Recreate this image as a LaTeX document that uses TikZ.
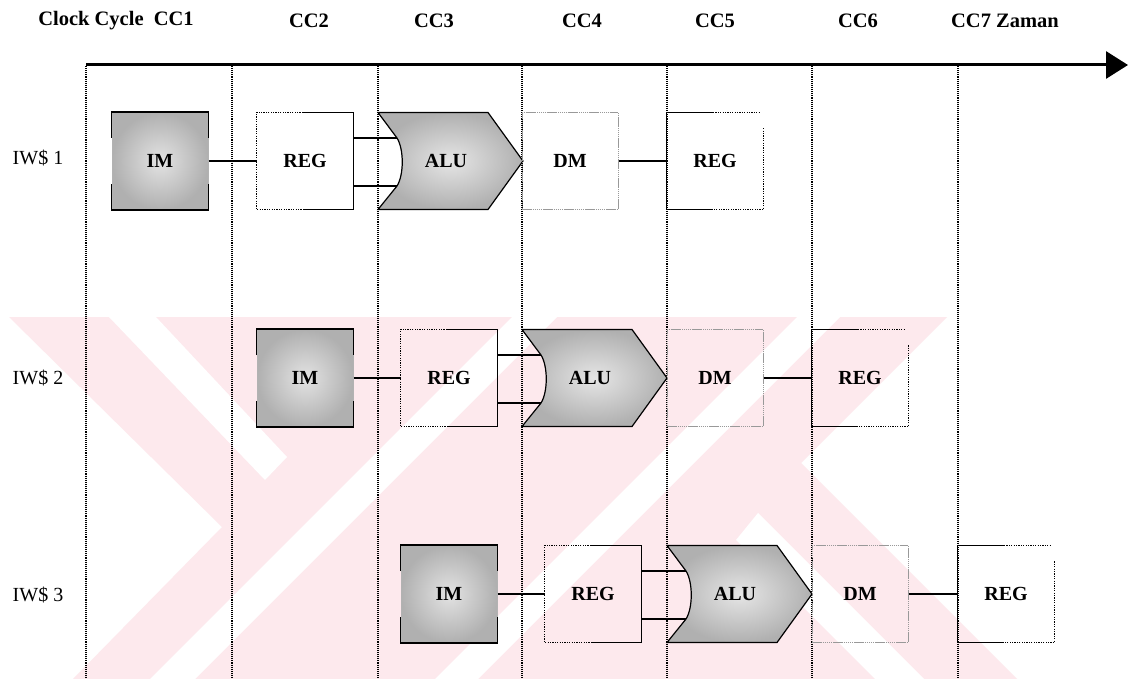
\documentclass[tikz,border=0pt]{standalone}
\usepackage{fontspec}
\setmainfont{Liberation Serif}
\usetikzlibrary{arrows.meta,calc}
\definecolor{wmpink}{RGB}{253,233,237}

\newcommand\IMbox[3]{%
  \node[imcell] (#1) at (#2,#3) {IM};
  \draw[edge] ([yshift=-26pt]#1.north west) -- (#1.north west) -- (#1.north east) -- ([yshift=-26pt]#1.north east);
  \draw[edge] ([yshift=26pt]#1.south west) -- (#1.south west) -- (#1.south east) -- ([yshift=26pt]#1.south east);
}
\newcommand\REGread[3]{%
  \node[cell] (#1) at (#2,#3) {REG};
  \draw[halfdot] ([xshift=-2pt]#1.north) -- (#1.north west) -- (#1.south west) -- ([xshift=-2pt]#1.south);
  \draw[edge] ([xshift=-2pt]#1.north) -- (#1.north east) -- (#1.south east) -- ([xshift=-2pt]#1.south);
}
\newcommand\REGwrite[3]{%
  \node[cell] (#1) at (#2,#3) {REG};
  \draw[edge] ([xshift=-2pt]#1.north) -- (#1.north west) -- (#1.south west) -- ([xshift=-2pt]#1.south);
  \draw[halfdot] ([xshift=-2pt]#1.north) -- ([xshift=-4pt]#1.north east);
  \draw[halfdot] ([yshift=-16pt]#1.north east) -- (#1.south east) -- ([xshift=-2pt]#1.south);
}
\newcommand\DMbox[3]{%
  \node[dmcell] (#1) at (#2,#3) {DM};
}
\newcommand\ALUbox[3]{%
  \shadedraw[alushape] (#2,#3-48.5) -- (#2+110,#3-48.5) -- (#2+145,#3) -- (#2+110,#3+48.5)
     -- (#2,#3+48.5) -- (#2+19,#3+25) .. controls (#2+26,#3+14) and (#2+26,#3-12) .. (#2+19,#3-23) -- cycle;
  \node[boxtxt] (#1) at (#2+68,#3) {ALU};
  \coordinate (#1u) at (#2+19,#3-23);
  \coordinate (#1d) at (#2+19,#3+25);
}

\begin{document}
\begin{tikzpicture}[x=1pt,y=-1pt,
  hdr/.style={font=\bfseries\fontsize{20.5}{24}\selectfont},
  rowlbl/.style={font=\fontsize{20}{24}\selectfont},
  boxtxt/.style={font=\bfseries\fontsize{20}{24}\selectfont},
  cell/.style={minimum width=96pt, minimum height=97pt, inner sep=0pt, boxtxt},
  imcell/.style={cell, draw=gray!60, line width=1pt, inner color=gray!22, outer color=gray!62},
  dmcell/.style={cell, draw=gray!80, line width=1pt, dash pattern=on 1.5pt off 0.6pt},
  alushape/.style={draw=black, line width=1.2pt, inner color=gray!20, outer color=gray!62},
  edge/.style={draw=black, line width=1.3pt},
  halfdot/.style={draw=black, line width=1.1pt, dash pattern=on 1.2pt off 1.2pt},
  conn/.style={draw=black, line width=1.2pt},
  vline/.style={draw=black, line width=1.1pt, dash pattern=on 1.1pt off 1pt},
  axis/.style={draw=black, line width=3pt, -{Triangle[length=22pt,width=27pt]}},
  wm/.style={fill=wmpink, draw=none},
  wmcut/.style={fill=white, draw=none}
]
\useasboundingbox (0,0) rectangle (1131,679);
\fill[white] (0,0) rectangle (1131,679);

% watermark (background)
\begin{scope}
  \clip (0,0) rectangle (1131,679);
  \fill[wm] (9,317) -- (947,317) -- (801,463) -- (1017,679) -- (73,679) -- (222,527) -- cycle;
  \fill[wmcut] (109,317) -- (156,317) -- (287,457) -- (265,480) -- cycle;
  \fill[wmcut] (512,317) -- (557,317) -- (195,679) -- (150,679) -- cycle;
  \fill[wmcut] (797,317) -- (840,317) -- (478,679) -- (435,679) -- cycle;
  \fill[wmcut] (736,540) -- (758,513) -- (924,679) -- (875,679) -- cycle;
\end{scope}

% time columns
\coordinate (bot) at (0,679);
\foreach \i/\x in {1/86,2/232,3/378,4/522,5/667,6/812,7/958}{
  \coordinate (v\i) at (\x,66);
  \draw[vline] (v\i) -- (v\i |- bot);
}
\coordinate (t0) at (86,65);
\coordinate (t1) at (1128,65);
\draw[axis] (t0) -- (t1);

% header
\node[hdr] (h1) at (116,21) {Clock Cycle\ \ CC1};
\node[hdr] (h2) at (309,21) {CC2};
\node[hdr] (h3) at (434,21) {CC3};
\node[hdr] (h4) at (582,21) {CC4};
\node[hdr] (h5) at (715,21) {CC5};
\node[hdr] (h6) at (858,21) {CC6};
\node[hdr] (h7) at (1005,21) {CC7 Zaman};

% row labels
\node[rowlbl] (l1) at (38,158) {IW\$ 1};
\node[rowlbl] (l2) at (38,378) {IW\$ 2};
\node[rowlbl] (l3) at (38,595) {IW\$ 3};

% row 1
\IMbox{im1}{160}{161}
\REGread{rr1}{305}{161}
\ALUbox{alu1}{378}{161}
\DMbox{dm1}{570}{161}
\REGwrite{rw1}{715}{161}
\draw[conn] (im1) -- (rr1);
\draw[conn] (rr1.east |- alu1u) -- (alu1u);
\draw[conn] (rr1.east |- alu1d) -- (alu1d);
\draw[conn] (dm1) -- (rw1);

% row 2
\IMbox{im2}{305}{378}
\REGread{rr2}{449}{378}
\ALUbox{alu2}{522}{378}
\DMbox{dm2}{715}{378}
\REGwrite{rw2}{860}{378}
\draw[conn] (im2) -- (rr2);
\draw[conn] (rr2.east |- alu2u) -- (alu2u);
\draw[conn] (rr2.east |- alu2d) -- (alu2d);
\draw[conn] (dm2) -- (rw2);

% row 3
\IMbox{im3}{449}{594}
\REGread{rr3}{593}{594}
\ALUbox{alu3}{667}{594}
\DMbox{dm3}{860}{594}
\REGwrite{rw3}{1006}{594}
\draw[conn] (im3) -- (rr3);
\draw[conn] (rr3.east |- alu3u) -- (alu3u);
\draw[conn] (rr3.east |- alu3d) -- (alu3d);
\draw[conn] (dm3) -- (rw3);
\end{tikzpicture}
\end{document}
